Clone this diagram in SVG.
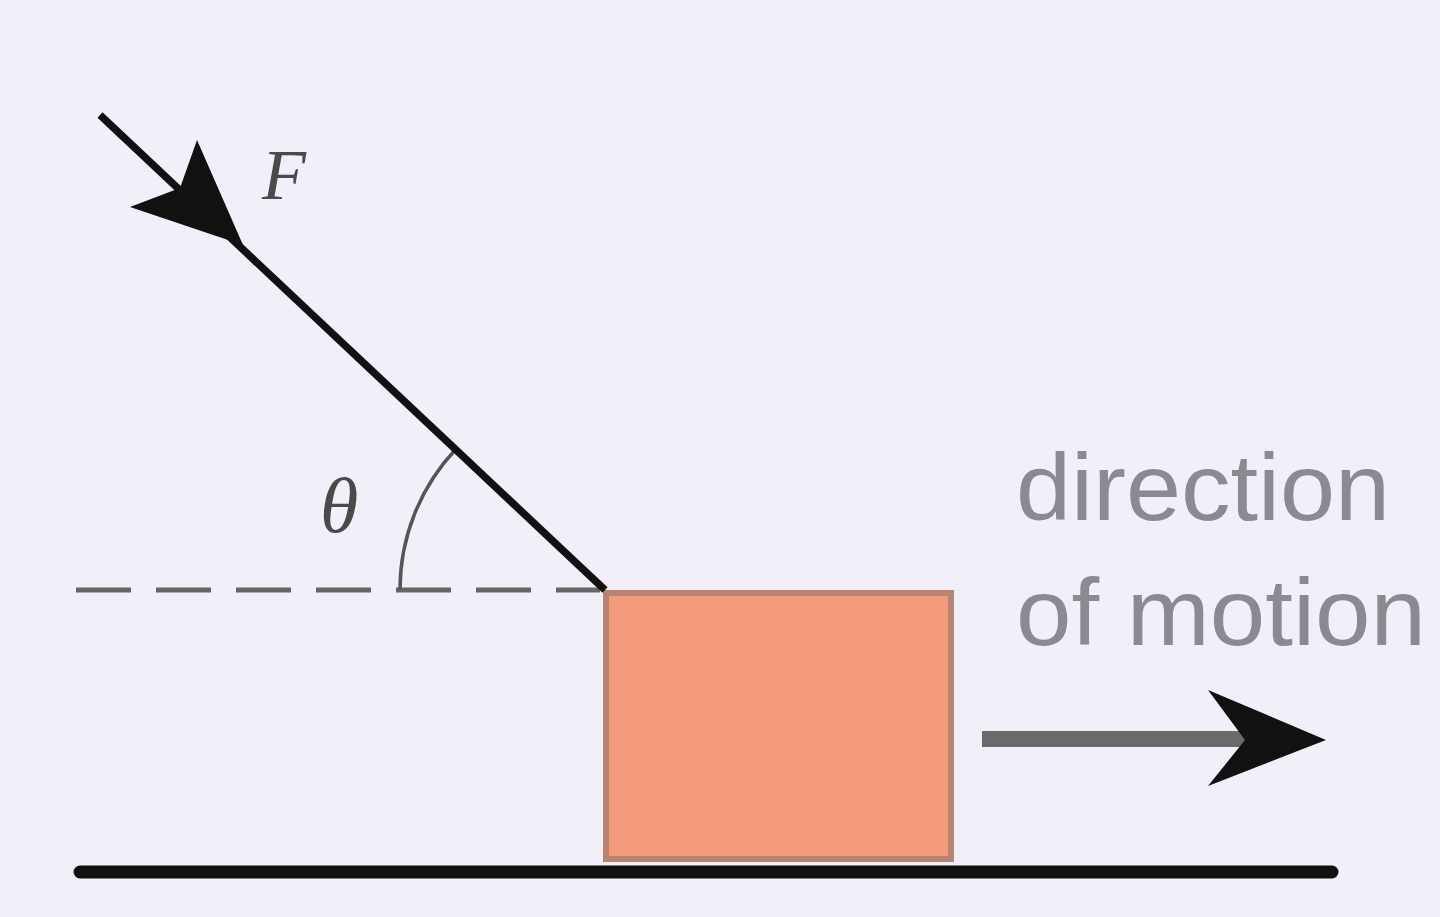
<svg xmlns="http://www.w3.org/2000/svg" width="1440" height="917" viewBox="0 0 1440 917">
  <style>
    .lbl { font-family: "Liberation Serif", "DejaVu Serif", serif; font-style: italic; fill: #4a4a4a; }
    .motion { font-family: "Liberation Sans", "DejaVu Sans", sans-serif; fill: #8c8a90; font-size: 94px; }
  </style>
  <rect x="0" y="0" width="1440" height="917" fill="#f2eff8"/>
  <g id="ground">
    <line x1="80" y1="872" x2="1332" y2="872" stroke="#111" stroke-width="13" stroke-linecap="round"/>
  </g>
  <g id="block">
    <rect x="606" y="593" width="345" height="266" fill="#f29a7a" stroke="#b88472" stroke-width="6"/>
  </g>
  <g id="connectors">
    <line id="reference" x1="76" y1="590" x2="600" y2="590" stroke="#666" stroke-width="5" stroke-dasharray="55 25"/>
    <path id="angle-arc" d="M 456 449 A 205 205 0 0 0 400 590" fill="none" stroke="#555" stroke-width="3.5"/>
    <line id="force" x1="100" y1="115" x2="605" y2="590" stroke="#111" stroke-width="7.5"/>
    <polygon id="force-head" points="243,245 130,207 180,188 197,140" fill="#111"/>
    <line id="motion-line" x1="982" y1="739" x2="1250" y2="739" stroke="#6a6a6a" stroke-width="16"/>
    <polygon id="motion-head" points="1326,740 1208,690 1245,740 1208,786" fill="#111"/>
  </g>
  <g id="labels">
    <text class="lbl" x="262" y="199" font-size="72">F</text>
    <text class="lbl" x="320" y="532" font-size="78">θ</text>
    <text class="motion" x="1016" y="520" textLength="374" lengthAdjust="spacingAndGlyphs">direction</text>
    <text class="motion" x="1016" y="645" textLength="410" lengthAdjust="spacingAndGlyphs">of motion</text>
  </g>
</svg>
